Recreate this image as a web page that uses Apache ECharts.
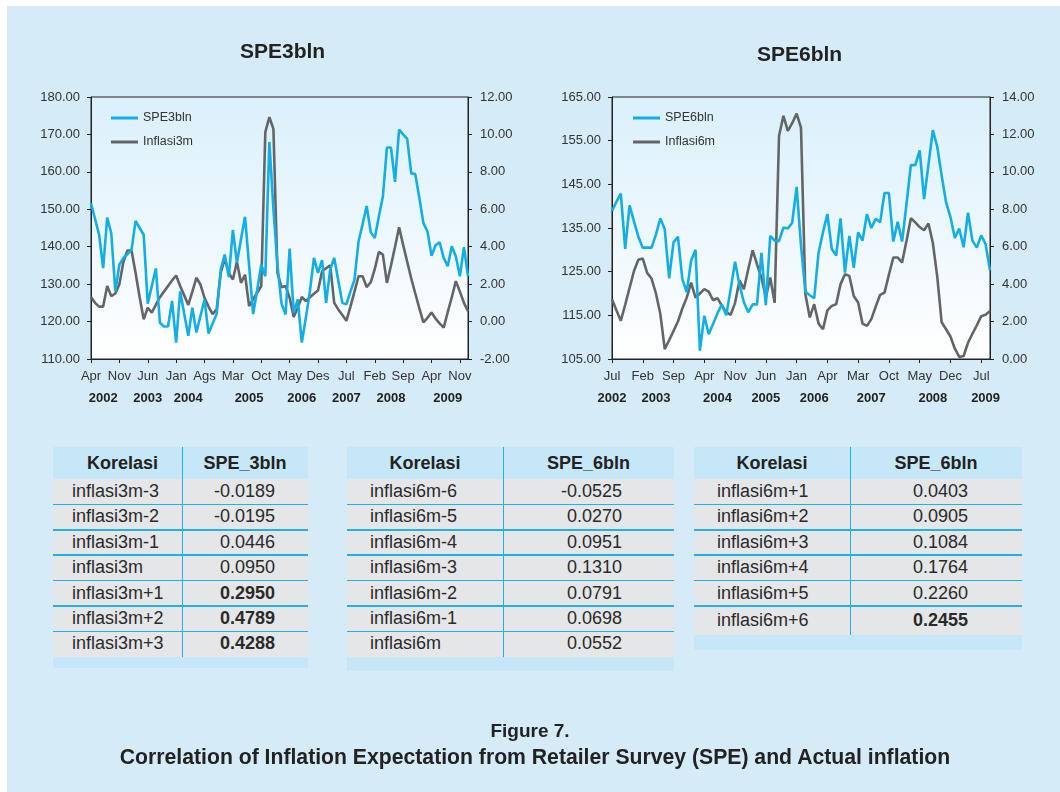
<!DOCTYPE html>
<html>
<head>
<meta charset="utf-8">
<script src="https://cdn.jsdelivr.net/npm/echarts@6/dist/echarts.min.js"></script>
<style>
  html, body { margin: 0; padding: 0; background: #fff; }
  #page { position: absolute; left: 7px; top: 6px; width: 1053px; height: 786px; background: #d5ecf8; }
  #chart { position: absolute; left: 0; top: 0; width: 1060px; height: 792px; }
  .cell { position: absolute; box-sizing: border-box; font-family: 'Liberation Sans', Arial, sans-serif; font-size: 18px; color: #2a2a2a; white-space: nowrap; }
  .cap { position: absolute; left: 0; width: 1060px; text-align: center; font-family: 'Liberation Sans', Arial, sans-serif; font-weight: bold; color: #222; white-space: nowrap; }
</style>
</head>
<body>
<div id="page"></div>
<div id="chart"></div>
<div id="tables"></div>
<div class="cap" style="top:718px; font-size:19px; line-height:26px;">Figure 7.</div>
<div class="cap" style="top:744px; left:5px; font-size:21.2px; line-height:26px;">Correlation of Inflation Expectation from Retailer Survey (SPE) and Actual inflation</div>
<script>
// ---- SPE3bln vs Inflasi3m, monthly Apr 2002 .. Jan 2010
var spe3 = [151.6,147.4,143.2,134.3,147.8,143.6,128.1,135.2,137,138,
  139.2,146.9,145,143.2,124.8,129.5,134.2,119.7,118.7,118.7,
  125.5,114.4,128.1,122,116.2,123.7,117.1,121.5,125.9,116.8,
  119.5,122,133.9,137.9,131.9,144.5,135.7,142,148,135,
  122,128.5,135.2,132.1,168,150,135,124.8,121.9,139.5,
  122.4,125.9,114.4,121,128.1,137,133,136.4,125,133.9,
  137,131,125,124.6,128,131.2,141.4,146,150.9,143.9,
  142.3,148,153.4,166.5,166.5,157.3,171.3,170,168.8,159.6,
  159.4,153,146.3,144.1,137.6,140.4,141.2,137,134.8,140.1,
  137.4,132.1,139.9,132.1];
var inf3 = [1.31,1.0,0.8,0.8,1.9,1.36,1.5,2.0,3.2,3.8,
  3.8,2.6,1.3,0.12,0.74,0.48,0.9,1.3,1.6,1.9,
  2.2,2.46,1.9,1.4,0.89,1.6,2.34,1.98,1.27,0.8,
  0.4,0.65,2.6,3.36,2.6,2.25,3.19,2.07,2.5,0.83,
  1.2,1.54,1.9,10.12,10.92,10.3,2.6,1.84,1.9,1.27,
  0.25,0.74,1.31,1.1,1.3,1.49,1.66,2.69,2.85,3.0,
  1.0,0.65,0.35,0.04,0.8,1.6,2.42,2.42,1.84,2.1,
  2.8,3.72,3.58,2.07,3.0,4.0,5.04,4.1,3.2,2.3,
  1.5,0.7,-0.05,0.2,0.48,0.16,-0.1,-0.32,0.5,1.3,
  2.16,1.6,1.0,0.55];
var ticks3 = ['Apr','Nov','Jun','Jan','Ags','Mar','Oct','May','Des','Jul','Feb','Sep','Apr','Nov'];
var years3 = ['2002','2003','2004','2005','2006','2007','2008','2009'];
var yearPos3 = [3,14,24,39,52,63,74,88];

// ---- SPE6bln vs Inflasi6m, monthly Jul 2002 .. Sep 2009
var spe6 = [138.9,141,142.9,130.2,140.2,136.5,133.0,130.5,130.5,130.5,
  133.5,137.2,134.7,123.5,131.7,133,123.3,120.3,127.5,130,
  106.9,114.9,110.7,113,115.5,117.5,115,121,127.3,122,
  118,115.7,117.5,117.5,129.3,117.3,133.2,132.1,132,135.1,
  134.9,136.2,144.4,131,120.4,119.6,118.9,129.4,134,138.2,
  130.2,128.7,137.2,124.8,133.2,125.9,134.0,132.1,138.2,135,
  137.1,136.3,143,143,131.9,136.4,131.9,140.5,149.4,149.4,
  152.8,141.6,149.5,157.4,153.6,147,140.9,137.5,132.7,134.9,
  130.6,138.5,132.1,130.5,133.3,131.3,125.3];
var inf6 = [3.2,2.6,2.04,2.9,3.8,4.7,5.3,5.37,4.6,4.3,
  3.5,2.4,0.53,1.0,1.5,2.0,2.7,3.28,4.08,3.28,
  3.5,3.73,3.6,3.14,3.25,2.84,2.5,2.36,3.0,4.2,
  3.73,4.8,5.81,5.06,4.35,3.28,4.35,3.0,11.92,12.99,
  12.19,12.6,13.11,12.36,3.46,2.22,2.93,1.89,1.59,2.6,
  2.84,2.93,4.0,4.53,4.44,3.37,3.02,1.89,1.77,2.13,
  2.8,3.43,3.55,4.5,5.42,5.42,5.16,6.3,7.52,7.3,
  7.05,6.88,7.24,6.2,4.4,1.96,1.59,1.2,0.55,0.11,
  0.16,0.87,1.35,1.8,2.29,2.36,2.57];
var ticks6 = ['Jul','Feb','Sep','Apr','Nov','Jun','Jan','Apr','Mar','Oct','May','Dec','Jul'];
var years6 = ['2002','2003','2004','2005','2006','2007','2008','2009'];
var yearPos6 = [0,10,24,35,46,59,73,85];

// ---- correlation tables
var t1Labels = ['inflasi3m-3','inflasi3m-2','inflasi3m-1','inflasi3m','inflasi3m+1','inflasi3m+2','inflasi3m+3'];
var t1Values = [-0.0189,-0.0195,0.0446,0.0950,0.2950,0.4789,0.4288];
var t1Bold = [4,5,6];
var t2Labels = ['inflasi6m-6','inflasi6m-5','inflasi6m-4','inflasi6m-3','inflasi6m-2','inflasi6m-1','inflasi6m'];
var t2Values = [-0.0525,0.0270,0.0951,0.1310,0.0791,0.0698,0.0552];
var t2Bold = [];
var t3Labels = ['inflasi6m+1','inflasi6m+2','inflasi6m+3','inflasi6m+4','inflasi6m+5','inflasi6m+6'];
var t3Values = [0.0403,0.0905,0.1084,0.1764,0.2260,0.2455];
var t3Bold = [5];

function monthRange(y, m, n) {
  var out = [];
  for (var i = 0; i < n; i++) {
    var mm = m - 1 + i;
    out.push((y + Math.floor(mm / 12)) + '-' + ((mm % 12) + 1));
  }
  return out;
}
var months3 = monthRange(2002, 4, spe3.length);
var months6 = monthRange(2002, 7, spe6.length);

var FONT = 'Liberation Sans';
var BLUE = '#13aee6';
var GREY = '#646567';

function plotBg() {
  return new echarts.graphic.LinearGradient(0, 0, 0, 1, [
    { offset: 0, color: '#daf0fb' },
    { offset: 1, color: '#ffffff' }
  ]);
}

function monthAxis(grid, cats, ticks) {
  return {
    gridIndex: grid, type: 'category', data: cats, boundaryGap: false, position: 'bottom',
    axisLine: { onZero: false, lineStyle: { color: '#222', width: 1 } },
    axisTick: { interval: 6, length: 4, lineStyle: { color: '#222' } },
    axisLabel: {
      interval: 6, margin: 11, fontSize: 13, fontFamily: FONT, color: '#333',
      formatter: function (v, i) { return ticks[Math.round(i / 7)] || ''; }
    },
    splitLine: { show: false }
  };
}
function yearAxis(grid, cats, years, pos) {
  return {
    gridIndex: grid, type: 'category', data: cats, boundaryGap: false, position: 'bottom',
    axisLine: { show: false, onZero: false }, axisTick: { show: false }, splitLine: { show: false },
    axisLabel: {
      interval: function (i) { return pos.indexOf(i) >= 0; },
      margin: 33, fontSize: 13, fontWeight: 'bold', fontFamily: FONT, color: '#222',
      formatter: function (v, i) { var k = pos.indexOf(i); return k >= 0 ? years[k] : ''; }
    }
  };
}
function valAxis(grid, pos, min, max, step, gap) {
  return {
    gridIndex: grid, type: 'value', position: pos, min: min, max: max, interval: step,
    axisLine: { show: true, onZero: false, lineStyle: { color: '#222', width: 1 } },
    axisTick: { show: true, length: 4, lineStyle: { color: '#222' } },
    splitLine: { show: false },
    axisLabel: {
      margin: gap, fontSize: 13, fontFamily: FONT, color: '#333',
      formatter: function (v) { return v.toFixed(2); }
    }
  };
}
function line(name, data, xi, yi, color, z) {
  return {
    name: name, type: 'line', data: data, xAxisIndex: xi, yAxisIndex: yi,
    symbol: 'none', z: z, color: color,
    lineStyle: { color: color, width: 2.6 }
  };
}
function legendAt(names, x) {
  return {
    data: names, orient: 'vertical', left: x, top: 111, padding: 0,
    icon: 'rect', itemWidth: 27, itemHeight: 3, itemGap: 10,
    textStyle: { fontSize: 12.5, fontFamily: FONT, color: '#333', lineHeight: 14 }
  };
}

var chart = echarts.init(document.getElementById('chart'), null, { renderer: 'canvas' });
chart.setOption({
  animation: false,
  backgroundColor: 'transparent',
  title: [
    { text: 'SPE3bln', left: 240, top: 42, padding: 0,
      textStyle: { fontSize: 21, fontWeight: 'bold', fontFamily: FONT, color: '#222' } },
    { text: 'SPE6bln', left: 757, top: 45, padding: 0,
      textStyle: { fontSize: 21, fontWeight: 'bold', fontFamily: FONT, color: '#222' } }
  ],
  legend: [
    legendAt(['SPE3bln', 'Inflasi3m'], 111),
    legendAt(['SPE6bln', 'Inflasi6m'], 633)
  ],
  grid: [
    { left: 91, top: 97, width: 377, height: 262, show: true, backgroundColor: plotBg(), borderColor: '#222', borderWidth: 1 },
    { left: 612, top: 97, width: 378, height: 262, show: true, backgroundColor: plotBg(), borderColor: '#222', borderWidth: 1 }
  ],
  xAxis: [
    monthAxis(0, months3, ticks3),
    yearAxis(0, months3, years3, yearPos3),
    monthAxis(1, months6, ticks6),
    yearAxis(1, months6, years6, yearPos6)
  ],
  yAxis: [
    valAxis(0, 'left', 110, 180, 10, 11),
    valAxis(0, 'right', -2, 12, 2, 12),
    valAxis(1, 'left', 105, 165, 10, 11),
    valAxis(1, 'right', 0, 14, 2, 12)
  ],
  series: [
    line('Inflasi3m', inf3, 0, 1, GREY, 2),
    line('SPE3bln', spe3, 0, 0, BLUE, 3),
    line('Inflasi6m', inf6, 2, 3, GREY, 2),
    line('SPE6bln', spe6, 2, 2, BLUE, 3)
  ]
});

// ---- tables drawn as positioned blocks
function cell(parent, x, y, w, h, css, text) {
  var d = document.createElement('div');
  d.className = 'cell';
  d.style.left = x + 'px'; d.style.top = y + 'px';
  d.style.width = w + 'px'; d.style.height = h + 'px';
  d.style.lineHeight = h + 'px';
  for (var k in css) d.style[k] = css[k];
  if (text !== undefined) d.textContent = text;
  parent.appendChild(d);
  return d;
}
function drawTable(t) {
  var root = document.getElementById('tables');
  var headH = 32, y = t.top;
  cell(root, t.left, y, t.width, headH, { background: '#c6e7f8' });
  cell(root, t.left, y, t.col1, headH, { textAlign: 'center', fontWeight: 'bold', color: '#222', paddingLeft: t.headPad + 'px' }, 'Korelasi');
  cell(root, t.left + t.col1, y, t.width - t.col1, headH, { textAlign: 'center', fontWeight: 'bold', color: '#222' }, t.title);
  y += headH;
  for (var i = 0; i < t.labels.length; i++) {
    var h = (i === t.labels.length - 1 && t.lastH) ? t.lastH : t.rowH;
    cell(root, t.left, y, t.width, h, { background: '#e5e6e8' });
    cell(root, t.left, y, t.col1, h, { paddingLeft: t.labelPad + 'px' }, t.labels[i]);
    cell(root, t.left + t.col1, y, t.width - t.col1, h,
      { textAlign: 'right', paddingRight: t.valPad + 'px', fontWeight: t.bold.indexOf(i) >= 0 ? 'bold' : 'normal' },
      t.values[i].toFixed(4));
    if (i > 0) cell(root, t.left, y - 0.75, t.width, 1.5, { background: '#1fb2e8' });
    y += h;
  }
  cell(root, t.left + t.col1 - 0.5, t.top, 1.5, y - t.top, { background: '#1fb2e8' });
  cell(root, t.left, y, t.width, t.band, { background: '#c6e7f8' });
}
drawTable({ left: 53, top: 447, width: 255, col1: 129, rowH: 25.4, band: 11.6, labelPad: 19, valPad: 33, headPad: 10,
  title: 'SPE_3bln', labels: t1Labels, values: t1Values, bold: t1Bold });
drawTable({ left: 347, top: 447, width: 327, col1: 156, rowH: 25.4, band: 14, labelPad: 23, valPad: 52, headPad: 0,
  title: 'SPE_6bln', labels: t2Labels, values: t2Values, bold: t2Bold });
drawTable({ left: 694, top: 447, width: 328, col1: 156, rowH: 25.4, lastH: 29.3, band: 14.7, labelPad: 23, valPad: 54, headPad: 0,
  title: 'SPE_6bln', labels: t3Labels, values: t3Values, bold: t3Bold });
</script>
</body>
</html>
